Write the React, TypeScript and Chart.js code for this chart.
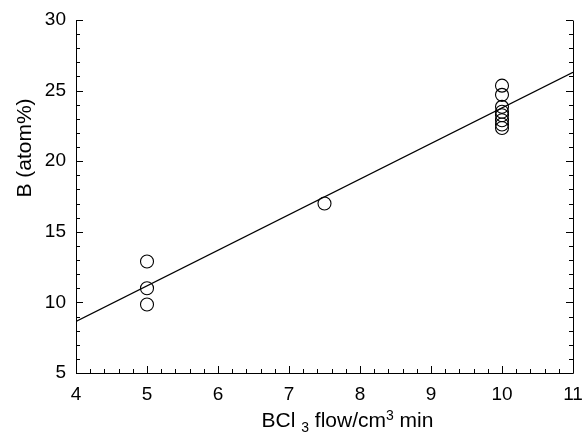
import React, { useEffect, useRef } from "react";
import { Chart, registerables } from "chart.js";

Chart.register(...registerables);

const flowX = [5, 5, 5, 7.5, 10, 10, 10, 10, 10, 10, 10, 10];
const boronY = [12.9, 11.0, 9.85, 17.0, 25.35, 24.7, 23.85, 23.5, 23.25, 22.9, 22.6, 22.35];
const fitX = [4, 11];
const fitY = [8.65, 26.3];
const xTicks = [4, 5, 6, 7, 8, 9, 10, 11];
const yTicks = [5, 10, 15, 20, 25, 30];

const FONT = "'Liberation Sans', Arial, Helvetica, sans-serif";

const framePlugin = {
  id: "frameTicks",
  afterDraw(chart: any) {
    const { ctx, chartArea: a, scales } = chart;
    const xs = scales.x;
    const ys = scales.y;
    ctx.save();
    ctx.strokeStyle = "#000";
    ctx.lineWidth = 1;
    const L = a.left + 0.5;
    const R = a.right + 0.5;
    const T = a.top + 0.5;
    const B = a.bottom + 0.5;
    ctx.beginPath();
    ctx.moveTo(L, T);
    ctx.lineTo(L, B);
    ctx.lineTo(R, B);
    ctx.lineTo(R, T);
    ctx.stroke();
    ctx.beginPath();
    for (let i = 0; i <= 35; i++) {
      const v = 4 + i * 0.2;
      const p = Math.round(xs.getPixelForValue(v)) + 0.5;
      const len = i % 5 === 0 ? 7 : 4;
      ctx.moveTo(p, a.bottom);
      ctx.lineTo(p, a.bottom - len);
    }
    for (let v = 5; v <= 30; v++) {
      const p = Math.round(ys.getPixelForValue(v)) + 0.5;
      const len = v % 5 === 0 ? 7 : 4;
      ctx.moveTo(a.left, p);
      ctx.lineTo(a.left + len, p);
      ctx.moveTo(a.right, p);
      ctx.lineTo(a.right - len, p);
    }
    ctx.stroke();

    ctx.fillStyle = "#000";
    const big = "21px " + FONT;
    const small = "14px " + FONT;
    const parts: [string, string, number][] = [
      ["BCl", big, 0],
      [" ", big, 0],
      ["3", small, 5],
      [" flow/cm", big, 0],
      ["3", small, -7],
      [" min", big, 0],
    ];
    let total = 0;
    for (const [t, f] of parts) {
      ctx.font = f;
      total += ctx.measureText(t).width;
    }
    let x = 347.5 - total / 2;
    const base = 426.5;
    ctx.textAlign = "left";
    ctx.textBaseline = "alphabetic";
    for (const [t, f, dy] of parts) {
      ctx.font = f;
      ctx.fillText(t, x, base + dy);
      x += ctx.measureText(t).width;
    }
    ctx.translate(31, 148);
    ctx.rotate(-Math.PI / 2);
    ctx.font = big;
    ctx.textAlign = "center";
    ctx.fillText("B (atom%)", 0, 0);
    ctx.restore();
  },
};

export default function App() {
  const ref = useRef<HTMLCanvasElement>(null);
  useEffect(() => {
    if (!ref.current) return;
    const chart = new Chart(ref.current, {
      type: "scatter",
      data: {
        datasets: [
          {
            type: "line",
            data: fitX.map((x, i) => ({ x, y: fitY[i] })),
            borderColor: "#000",
            borderWidth: 1.3,
            pointRadius: 0,
            fill: false,
          } as any,
          {
            data: flowX.map((x, i) => ({ x, y: boronY[i] })),
            pointStyle: "circle",
            pointRadius: 6.5,
            borderColor: "#000",
            borderWidth: 1.1,
            backgroundColor: "rgba(255,255,255,0)",
          },
        ],
      },
      options: {
        animation: false,
        responsive: false,
        layout: { padding: { top: 20, right: 11, left: 0, bottom: 0 } },
        plugins: { legend: { display: false }, tooltip: { enabled: false } },
        scales: {
          x: {
            type: "linear",
            min: 4,
            max: 11,
            afterBuildTicks: (s: any) => {
              s.ticks = xTicks.map((v) => ({ value: v }));
            },
            afterFit: (s: any) => {
              s.height = 59;
              s.paddingLeft = 0;
              s.paddingRight = 0;
            },
            grid: { display: false, drawTicks: false },
            border: { display: false },
            ticks: {
              padding: 10,
              color: "#000",
              font: { size: 19, family: FONT },
              maxRotation: 0,
            },
          },
          y: {
            type: "linear",
            min: 5,
            max: 30,
            afterBuildTicks: (s: any) => {
              s.ticks = yTicks.map((v) => ({ value: v }));
            },
            afterFit: (s: any) => {
              s.width = 76;
              s.paddingTop = 0;
              s.paddingBottom = 0;
            },
            grid: { display: false, drawTicks: false },
            border: { display: false },
            ticks: {
              padding: 10,
              color: "#000",
              font: { size: 19, family: FONT },
            },
          },
        },
      },
      plugins: [framePlugin],
    });
    return () => chart.destroy();
  }, []);
  return (
    <div style={{ position: "fixed", left: 0, top: 0, width: 584, height: 432, background: "#fff" }}>
      <canvas ref={ref} width={584} height={432} />
    </div>
  );
}
